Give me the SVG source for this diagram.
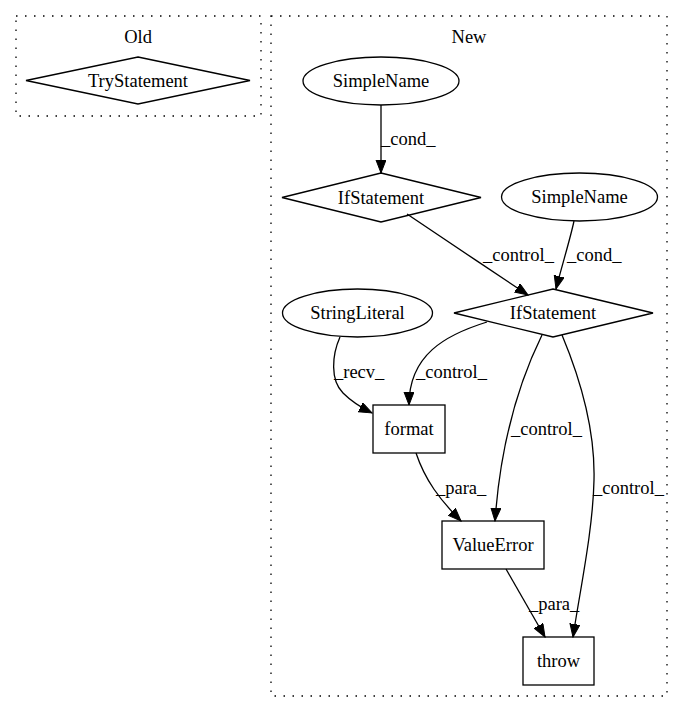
<svg xmlns="http://www.w3.org/2000/svg" width="684" height="712" viewBox="0 0 684 712">
<style>
text{font-family:"Liberation Serif","Times New Roman",serif;font-size:18.5px;fill:#000}
.n text{text-anchor:middle}
.shape{fill:none;stroke:#000;stroke-width:1.3}
.cl{fill:none;stroke:#000;stroke-width:1.3;stroke-dasharray:1.5,7.5}
.e path{fill:none;stroke:#000;stroke-width:1.3;marker-end:url(#arr)}
</style>
<defs>
<marker id="arr" markerUnits="userSpaceOnUse" markerWidth="14" markerHeight="11" refX="13" refY="5" orient="auto">
<path d="M0,0 L13,5 L0,10 z" fill="#000" stroke="#000"/>
</marker>
</defs>
<rect width="684" height="712" fill="#fff"/>
<g id="cluster_old">
<rect class="cl" x="16" y="16" width="245" height="100"/>
<text x="138" y="43" text-anchor="middle">Old</text>
</g>
<g id="cluster_new">
<rect class="cl" x="271" y="16" width="396" height="680"/>
<text x="469" y="43" text-anchor="middle">New</text>
</g>
<g id="edges" class="e">
<path d="M381,105 L381,173"/>
<path d="M407,214 C440,236 490,270 528,295"/>
<path d="M574,221 C570,240 562,265 556,289"/>
<path d="M340,337 C332,355 330,380 343,393 C352,402 362,408 372,413"/>
<path d="M487,322 C445,335 409,355 409,405"/>
<path d="M542,335 C515,390 500,450 495,521"/>
<path d="M562,335 C585,390 595,440 594,480 C593,530 580,590 573,637"/>
<path d="M416,453 C425,480 440,500 461,521"/>
<path d="M506,569 L545,637"/>
<text x="381" y="145">_cond_</text>
<text x="483" y="261">_control_</text>
<text x="567" y="261">_cond_</text>
<text x="334" y="378">_recv_</text>
<text x="416" y="378">_control_</text>
<text x="511" y="435">_control_</text>
<text x="593" y="494">_control_</text>
<text x="436" y="494">_para_</text>
<text x="529" y="610">_para_</text>
</g>
<g id="TryStatement" class="n">
<polygon class="shape" points="138,57 250,80.5 138,104 26,80.5"/>
<text x="138" y="87">TryStatement</text>
</g>
<g id="SimpleName1" class="n">
<ellipse class="shape" cx="381" cy="81" rx="78" ry="24"/>
<text x="381" y="87">SimpleName</text>
</g>
<g id="IfStatement1" class="n">
<polygon class="shape" points="381,173 481,197.5 381,222 282,197.5"/>
<text x="381" y="204">IfStatement</text>
</g>
<g id="SimpleName2" class="n">
<ellipse class="shape" cx="579.5" cy="197" rx="78" ry="24"/>
<text x="579.5" y="203">SimpleName</text>
</g>
<g id="IfStatement2" class="n">
<polygon class="shape" points="553,289 653,313 553,337 454,313"/>
<text x="553" y="319">IfStatement</text>
</g>
<g id="StringLiteral" class="n">
<ellipse class="shape" cx="357.5" cy="313" rx="75" ry="24"/>
<text x="357.5" y="319">StringLiteral</text>
</g>
<g id="format" class="n">
<rect class="shape" x="373" y="405" width="72" height="48"/>
<text x="409" y="435">format</text>
</g>
<g id="ValueError" class="n">
<rect class="shape" x="442" y="521" width="102" height="48"/>
<text x="493" y="551">ValueError</text>
</g>
<g id="throw" class="n">
<rect class="shape" x="523" y="637" width="71" height="48"/>
<text x="558.5" y="667">throw</text>
</g>
</svg>
